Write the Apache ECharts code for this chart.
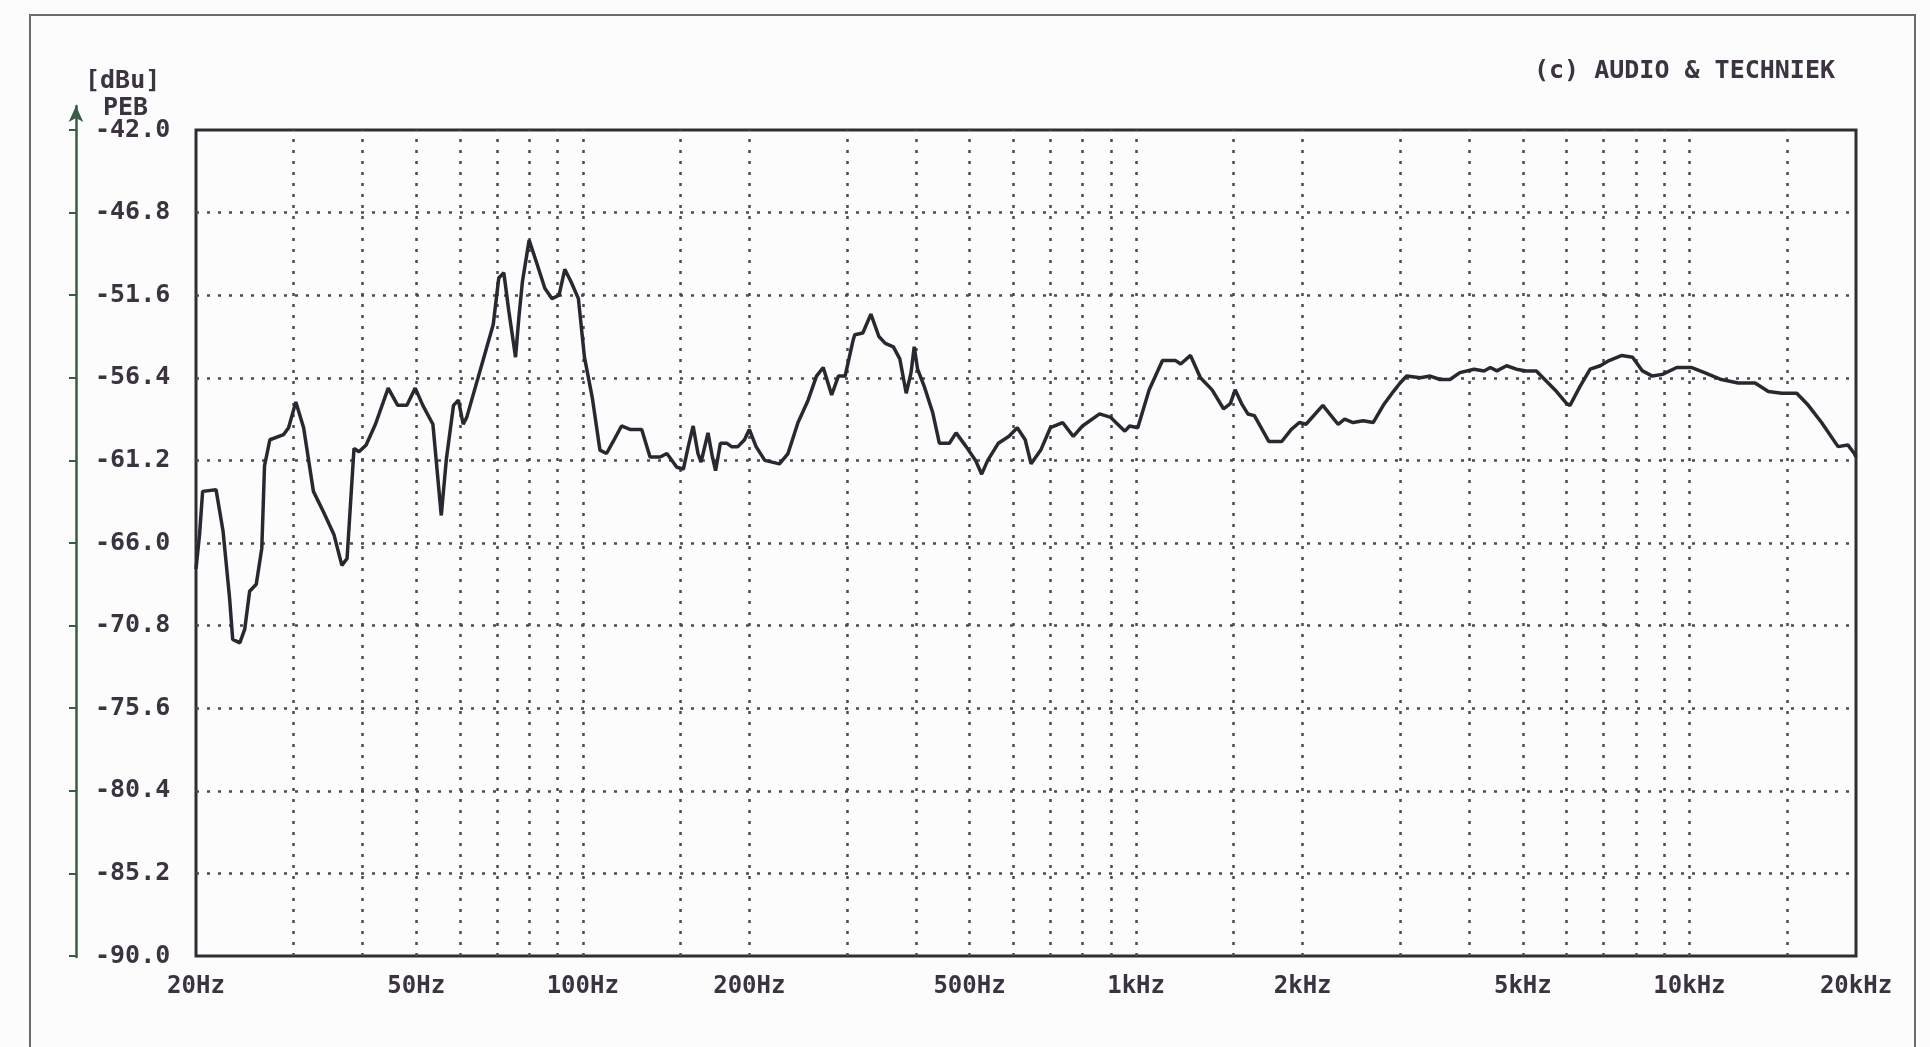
<!DOCTYPE html>
<html>
<head>
<meta charset="utf-8">
<script src="https://cdn.jsdelivr.net/npm/echarts@6/dist/echarts.min.js"></script>
<style>
html,body{margin:0;padding:0;background:#fcfcfc;}
#chart{width:1930px;height:1047px;}
</style>
</head>
<body>
<div id="chart"></div>
<script>
// ---- data ----
const freqHz = [
  20.0, 20.3, 20.56, 21.74, 22.38, 23.0, 23.3, 24.0, 24.5, 25.0, 25.7, 26.3, 26.6, 27.2, 28.8, 29.4,
  30.3, 31.3, 32.6, 34.0, 35.5, 36.7, 37.5, 38.6, 39.4, 40.6, 42.2, 44.5, 46.3, 48.1, 49.8,
  51.4, 53.6, 55.5, 56.7, 58.4, 59.6, 60.8, 61.7, 65.2, 68.9, 70.5, 72.0, 73.5, 75.6, 76.7, 77.8,
  80, 82.7, 85.4, 88.0, 90.6, 92.8, 95.2, 98.2, 100.7, 104.1,
  107.4, 110.4, 113.5, 117.5, 121.7, 127.8, 132.3, 138.0, 141.9, 147.9, 152.0, 155.1, 158.3, 161.5,
  163.6, 168.4, 171.5, 173.8, 177.3, 182.0, 185.7, 190.7, 196.0, 200, 205.7, 213.3, 226.7, 234.9,
  244.9, 255.4, 264.5, 272.0, 281.7, 289.7, 297.9, 308.1, 310.2, 320.7, 331.7, 342.9, 352.2, 364.2,
  374.1, 384.2, 392.0, 397.2, 402.8, 414.1, 428.8, 441.0, 459.8, 472.8, 493.0, 512.7, 525.9, 539.3,
  563.8, 589.3, 609.9, 630.3, 646.0,
  672.5, 700, 736.6, 769.9, 800, 859.1, 900, 954.3, 973.3, 1007, 1056, 1116, 1179, 1204, 1254, 1307,
  1372, 1439, 1480, 1510, 1551, 1592, 1636, 1737, 1833, 1908, 1973, 2028, 2175, 2317, 2382, 2467,
  2573, 2682, 2797, 2917, 3000, 3083, 3263, 3400, 3543, 3692, 3847,
  4081, 4255, 4367, 4488, 4673, 4867, 5071, 5288, 5516, 5753, 6000, 6084, 6344, 6616, 6900, 7158,
  7550, 7894, 8224, 8573, 8937, 9487, 10070, 10650, 11420, 12250, 13140, 13890, 14690, 15630, 16400,
  17330, 18560, 19330, 19860, 20000
];
const levelDb = [
  -67.5, -65.5, -63.0, -62.9, -65.3, -69.2, -71.6, -71.8, -71.0, -68.8, -68.4, -66.3, -61.5, -60.0, -59.7, -59.3,
  -57.8, -59.3, -63.0, -64.2, -65.5, -67.3, -66.9, -60.5, -60.7, -60.3, -59.1, -57.0, -58.0, -58.0, -57.0,
  -58.0, -59.1, -64.4, -61.1, -58.0, -57.7, -59.1, -58.7, -56.0, -53.3, -50.6, -50.3, -52.5, -55.2, -52.8, -50.8,
  -48.4, -49.8, -51.2, -51.8, -51.6, -50.1, -50.8, -51.8, -55.2, -57.6,
  -60.6, -60.8, -60.1, -59.2, -59.4, -59.4, -61.0, -61.0, -60.8, -61.6, -61.7, -60.4, -59.2, -60.8,
  -61.3, -59.6, -61.0, -61.8, -60.2, -60.2, -60.4, -60.4, -60.0, -59.4, -60.4, -61.2, -61.4, -60.8,
  -59.0, -57.7, -56.3, -55.8, -57.4, -56.3, -56.3, -54.2, -53.9, -53.8, -52.7, -54.0, -54.4, -54.6,
  -55.3, -57.3, -56.1, -54.6, -55.9, -56.9, -58.4, -60.2, -60.2, -59.6, -60.4, -61.2, -62.0, -61.2,
  -60.2, -59.8, -59.3, -60.0, -61.4,
  -60.6, -59.3, -59.0, -59.8, -59.2, -58.5, -58.7, -59.5, -59.2, -59.3, -57.1, -55.4, -55.4, -55.6, -55.1, -56.4,
  -57.1, -58.2, -57.9, -57.1, -57.9, -58.5, -58.6, -60.1, -60.1, -59.4, -59.0, -59.1, -58.0, -59.1, -58.8, -59.0,
  -58.9, -59.0, -58.0, -57.2, -56.7, -56.3, -56.4, -56.3, -56.5, -56.5, -56.1,
  -55.9, -56.0, -55.8, -56.0, -55.7, -55.9, -56.0, -56.0, -56.6, -57.2, -57.9, -58.0, -56.9, -55.9, -55.7, -55.4,
  -55.1, -55.2, -56.0, -56.3, -56.2, -55.8, -55.8, -56.1, -56.5, -56.7, -56.7, -57.2, -57.3, -57.3, -58.0,
  -59.0, -60.4, -60.3, -60.8, -61.0
];
const xGridHz = [30, 40, 50, 60, 70, 80, 90, 100, 150, 200, 300, 400, 500, 600, 700, 800, 900,
  1000, 1500, 2000, 3000, 4000, 5000, 6000, 7000, 8000, 9000, 10000, 15000];
const xLabelHz = [20, 50, 100, 200, 500, 1000, 2000, 5000, 10000, 20000];
const xLabelText = ['20Hz', '50Hz', '100Hz', '200Hz', '500Hz', '1kHz', '2kHz', '5kHz', '10kHz', '20kHz'];
const yTickDb = [-90.0, -85.2, -80.4, -75.6, -70.8, -66.0, -61.2, -56.4, -51.6, -46.8, -42.0];
const yGridDb = [-85.2, -80.4, -75.6, -70.8, -66.0, -61.2, -56.4, -51.6, -46.8];

// ---- chart ----
const FONT = '"DejaVu Sans Mono", "Liberation Mono", monospace';
const TXT = '#3b3340';
const chart = echarts.init(document.getElementById('chart'), null, {renderer: 'canvas'});
const dot = {color: '#4a4a50', width: 2.5, type: [3, 8]};

chart.setOption({
  backgroundColor: '#fcfcfc',
  animation: false,
  title: [
    {text: '[dBu]', left: 80, top: 64, textStyle: {fontFamily: FONT, fontSize: 25, fontWeight: 'bold', color: TXT}},
    {text: 'PEB', left: 98, top: 91, textStyle: {fontFamily: FONT, fontSize: 25, fontWeight: 'bold', color: TXT}},
    {text: '(c) AUDIO & TECHNIEK', right: 90, top: 54, textStyle: {fontFamily: FONT, fontSize: 25, fontWeight: 'bold', color: TXT}}
  ],
  graphic: [
    {type: 'rect', shape: {x: 30, y: 15, width: 1885, height: 1100}, style: {fill: null, stroke: '#6a6a70', lineWidth: 2}, silent: true, z: -1}
  ],
  grid: [
    {left: 196, top: 130, right: 74, bottom: 91, show: true, borderColor: '#2f2d33', borderWidth: 3, backgroundColor: 'transparent'},
    {left: 76, top: 106, width: 1, bottom: 90, show: false}
  ],
  xAxis: [
    {
      type: 'log', logBase: 10, min: 20, max: 20000, gridIndex: 0,
      axisLine: {show: false}, axisTick: {show: false}, splitLine: {show: false}, minorSplitLine: {show: false},
      axisLabel: {
        show: true, customValues: xLabelHz, margin: 19,
        fontFamily: FONT, fontSize: 24, fontWeight: 'bold', color: TXT,
        formatter: function (v) {
          for (let i = 0; i < xLabelHz.length; i++) {
            if (Math.abs(xLabelHz[i] - v) / xLabelHz[i] < 1e-6) return xLabelText[i];
          }
          return '';
        }
      }
    },
    {type: 'value', gridIndex: 1, show: false, min: 0, max: 1}
  ],
  yAxis: [
    {
      type: 'value', min: -90, max: -42, gridIndex: 0, position: 'left', offset: 120,
      axisLine: {show: false},
      axisTick: {show: true, customValues: yTickDb, length: 7, lineStyle: {color: '#355e44', width: 2}},
      splitLine: {show: false},
      axisLabel: {
        show: true, inside: true, customValues: yTickDb, margin: 19,
        fontFamily: FONT, fontSize: 25, fontWeight: 'bold', color: TXT,
        formatter: function (v) { return Number(v).toFixed(1); }
      }
    },
    {
      type: 'value', gridIndex: 1, min: 0, max: 1,
      axisLine: {show: true, symbol: ['none', 'arrow'], symbolSize: [11, 16], lineStyle: {color: '#355e44', width: 2.5}},
      axisTick: {show: false}, axisLabel: {show: false}, splitLine: {show: false}
    }
  ],
  series: [
    {
      type: 'line',
      xAxisIndex: 0, yAxisIndex: 0,
      data: freqHz.map((f, i) => [f, levelDb[i]]),
      showSymbol: false,
      smooth: false,
      lineStyle: {color: '#2b2730', width: 3.5},
      z: 5,
      markLine: {
        silent: true,
        symbol: ['none', 'none'],
        label: {show: false},
        lineStyle: dot,
        animation: false,
        data: xGridHz.map(v => ({xAxis: v})).concat(yGridDb.map(v => ({yAxis: v})))
      }
    }
  ]
});
</script>
</body>
</html>
